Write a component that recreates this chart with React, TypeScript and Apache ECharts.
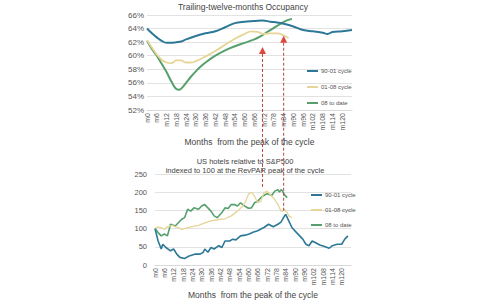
import React, { useEffect, useRef } from "react";
import * as echarts from "echarts";

const SERIES_NAMES = ["90-01 cycle", "01-08 cycle", "08 to date"];
const COLORS = ["#2c7896", "#e6d596", "#55a06c"];
const X_TICK_STEP = 6;
const X_LAST_TICK = 120;

// Trailing-twelve-months occupancy (%), [month, value]
const occ9001: [number, number][] = [
  [0, 64.0], [3, 63.3], [6, 62.7], [9, 62.2], [12, 61.9], [15, 61.9], [18, 62.0],
  [21, 62.1], [24, 62.4], [30, 62.9], [36, 63.3], [42, 63.6], [48, 64.2], [54, 64.8],
  [60, 65.0], [66, 65.1], [71, 65.2], [76, 65.0], [80, 64.9], [84, 64.7], [90, 64.3],
  [96, 63.8], [102, 63.6], [108, 63.4], [111, 63.2], [114, 63.5], [120, 63.6], [126, 63.8],
];
const occ0108: [number, number][] = [
  [0, 62.3], [3, 61.2], [6, 60.2], [9, 59.4], [12, 59.0], [15, 58.9], [18, 59.3],
  [21, 59.3], [24, 59.0], [27, 59.0], [30, 59.2], [36, 59.9], [42, 60.7], [48, 61.6],
  [54, 62.5], [60, 63.2], [64, 63.6], [68, 63.5], [72, 63.2], [76, 63.3], [80, 63.3],
  [84, 63.0], [87, 62.6],
];
const occ08: [number, number][] = [
  [0, 62.2], [3, 61.0], [6, 60.0], [9, 58.8], [12, 57.6], [15, 56.2], [18, 55.1],
  [20, 55.0], [22, 55.4], [24, 56.0], [27, 56.9], [30, 57.7], [33, 58.4], [36, 59.0],
  [42, 60.0], [48, 60.8], [54, 61.4], [60, 61.9], [66, 62.4], [70, 62.9], [74, 63.5],
  [78, 64.1], [82, 64.7], [86, 65.2], [89, 65.4],
];

// US hotels relative to S&P500, indexed to 100, [month, value]
const rel9001: [number, number][] = [
  [0, 100], [2, 66], [4, 44], [5, 57], [7, 48], [10, 39], [12, 44], [14, 30], [16, 21],
  [19, 18], [22, 25], [26, 30], [29, 30], [31, 35], [32, 44], [34, 35], [36, 48], [38, 44],
  [41, 53], [43, 48], [45, 66], [48, 66], [50, 71], [52, 69], [55, 80], [58, 82], [61, 86],
  [63, 90], [66, 94], [70, 103], [73, 112], [76, 105], [79, 112], [81, 118], [83, 133],
  [84, 139], [86, 121], [88, 103], [91, 89], [93, 80], [95, 71], [97, 57], [99, 53],
  [101, 66], [103, 62], [106, 55], [109, 51], [112, 46], [114, 53], [117, 57], [120, 57],
  [122, 71], [124, 80],
];
const rel0108: [number, number][] = [
  [0, 100], [2, 105], [4, 103], [6, 98], [8, 105], [11, 109], [13, 105], [15, 103],
  [17, 98], [19, 100], [23, 105], [28, 109], [32, 116], [36, 121], [41, 125], [45, 127],
  [49, 135], [53, 148], [56, 160], [58, 172], [60, 194], [62, 200], [64, 189], [66, 171],
  [68, 175], [70, 198], [72, 203], [75, 189], [77, 180], [79, 166], [81, 148], [82, 148],
  [83, 153], [85, 144], [86, 135], [88, 130],
];
const rel08: [number, number][] = [
  [0, 100], [2, 89], [4, 80], [6, 85], [8, 80], [10, 112], [13, 107], [15, 116], [17, 125],
  [19, 130], [21, 153], [23, 148], [25, 157], [28, 153], [30, 162], [32, 166], [34, 157],
  [36, 148], [38, 135], [40, 130], [43, 144], [45, 157], [47, 155], [49, 166], [51, 166],
  [53, 162], [55, 171], [57, 164], [60, 156], [62, 157], [64, 171], [66, 175], [68, 185],
  [70, 191], [72, 196], [75, 191], [77, 203], [79, 207], [80, 200], [81, 207], [82, 203],
  [83, 194], [84, 189], [85, 185],
];

// Annotation arrows: [month, top-chart occupancy at arrow tip, bottom-chart index at line end]
const arrowMonths = [71, 84];
const arrowOcc = [60.85, 62.5];
const arrowRelEnd = [212, 145];

const FONT = "Liberation Sans, Arial, sans-serif";
const TXT = "#555";

export default function App() {
  const ref = useRef<HTMLDivElement>(null);
  useEffect(() => {
    if (!ref.current) return;
    const chart = echarts.init(ref.current, null, { renderer: "svg" });

    const xAxisFor = (gridIndex: number) => ({
      type: "value",
      gridIndex,
      min: 0,
      max: 126,
      interval: X_TICK_STEP,
      name: "Months  from the peak of the cycle",
      nameLocation: "middle",
      nameGap: gridIndex === 0 ? 27 : 25,
      nameTextStyle: { fontSize: 8.5, color: "#444", fontFamily: FONT },
      axisLine: { show: true, lineStyle: { color: "#d9d9d9" } },
      axisTick: { show: false },
      splitLine: { show: false },
      axisLabel: {
        rotate: 90,
        fontSize: 7,
        color: TXT,
        margin: 3,
        fontFamily: FONT,
        formatter: (v: number) => (v <= X_LAST_TICK ? "m" + v : ""),
      },
    });

    const mkSeries = (i: number, data: [number, number][], gridIdx: number, width: number) => ({
      name: SERIES_NAMES[i],
      type: "line",
      xAxisIndex: gridIdx,
      yAxisIndex: gridIdx,
      data,
      smooth: gridIdx === 0 ? 0.4 : false,
      showSymbol: false,
      symbol: "none",
      lineStyle: { color: COLORS[i], width },
      itemStyle: { color: COLORS[i] },
      z: 3 - i,
    });

    const legendFor = (left: number, top: number, gap: number) => ({
      orient: "vertical",
      left,
      top,
      icon: "rect",
      itemWidth: 11,
      itemHeight: 2,
      itemGap: gap,
      data: SERIES_NAMES,
      textStyle: { fontSize: 6, color: TXT, fontFamily: FONT, padding: [0, 0, 0, -2] },
      selectedMode: false,
    });

    chart.setOption({
      animation: false,
      backgroundColor: "#fff",
      grid: [
        { left: 147, top: 15, width: 205, height: 95 },
        { left: 155, top: 174, width: 196, height: 92 },
      ],
      legend: [legendFor(302, 63, 10), legendFor(306, 187, 9)],
      xAxis: [xAxisFor(0), xAxisFor(1)],
      yAxis: [
        {
          type: "value",
          gridIndex: 0,
          min: 52,
          max: 66,
          interval: 2,
          axisLine: { show: false },
          axisTick: { show: false },
          splitLine: { lineStyle: { color: "#e2e2e2" } },
          axisLabel: { fontSize: 8, color: TXT, margin: 3, fontFamily: FONT, formatter: "{value}%" },
        },
        {
          type: "value",
          gridIndex: 1,
          min: 0,
          max: 250,
          interval: 50,
          axisLine: { show: false },
          axisTick: { show: false },
          splitLine: { lineStyle: { color: "#e2e2e2" } },
          axisLabel: { fontSize: 7.5, color: TXT, margin: 8, fontFamily: FONT },
        },
      ],
      series: [
        mkSeries(0, occ9001, 0, 2),
        mkSeries(1, occ0108, 0, 1.8),
        mkSeries(2, occ08, 0, 2),
        mkSeries(0, rel9001, 1, 1.6),
        mkSeries(1, rel0108, 1, 1.3),
        mkSeries(2, rel08, 1, 1.6),
      ],
      graphic: [
        {
          type: "text",
          id: "t1",
          x: 243,
          y: 7,
          style: {
            text: "Trailing-twelve-months Occupancy",
            textAlign: "center",
            textVerticalAlign: "middle",
            fontSize: 8.5,
            fill: "#444",
            fontFamily: FONT,
          },
        },
        {
          type: "text",
          id: "t2",
          x: 245,
          y: 161.5,
          style: {
            text: "US hotels relative to S&P500",
            textAlign: "center",
            textVerticalAlign: "middle",
            fontSize: 7.5,
            fill: "#444",
            fontFamily: FONT,
          },
        },
        {
          type: "text",
          id: "t3",
          x: 245,
          y: 170,
          style: {
            text: "indexed to 100 at the RevPAR peak of the cycle",
            textAlign: "center",
            textVerticalAlign: "middle",
            fontSize: 7.5,
            fill: "#444",
            fontFamily: FONT,
          },
        },
      ],
    });

    const extra: any[] = [];
    arrowMonths.forEach((m, i) => {
      const top = chart.convertToPixel({ gridIndex: 0 } as any, [m, arrowOcc[i]]) as number[];
      const bot = chart.convertToPixel({ gridIndex: 1 } as any, [m, arrowRelEnd[i]]) as number[];
      const x = top[0];
      extra.push({
        type: "line",
        id: "dl" + i,
        shape: { x1: x, y1: top[1] + 4, x2: x, y2: bot[1] },
        style: { stroke: "#b5473f", lineWidth: 1, lineDash: [3, 2] },
        z: 10,
      });
      extra.push({
        type: "polygon",
        id: "ar" + i,
        shape: { points: [[x, top[1] - 3], [x - 3.5, top[1] + 4], [x + 3.5, top[1] + 4]] },
        style: { fill: "#e0463f" },
        z: 11,
      });
    });
    chart.setOption({ graphic: extra });

    return () => chart.dispose();
  }, []);

  return (
    <div
      ref={ref}
      style={{ position: "fixed", left: 0, top: 0, width: 500, height: 300, background: "#fff" }}
    />
  );
}
